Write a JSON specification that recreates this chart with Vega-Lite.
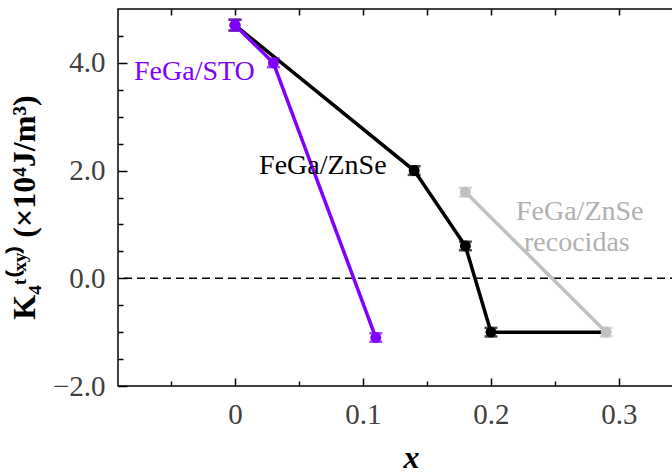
{
  "$schema": "https://vega.github.io/schema/vega-lite/v6.json",
  "width": 560,
  "height": 377,
  "autosize": {"type": "none"},
  "padding": {"left": 118, "top": 9, "right": 0, "bottom": 90},
  "background": "white",
  "config": {
    "view": {"stroke": "black", "strokeWidth": 1.5},
    "font": "Liberation Serif",
    "axis": {"grid": false, "domain": false}
  },
  "datasets": {
    "pts": [
      {"s": "ZnSe", "x": 0, "k": 4.7, "e": 0.1},
      {"s": "ZnSe", "x": 0.14, "k": 2.0, "e": 0.08},
      {"s": "ZnSe", "x": 0.18, "k": 0.6, "e": 0.08},
      {"s": "ZnSe", "x": 0.2, "k": -1.0, "e": 0.08},
      {"s": "ZnSe", "x": 0.29, "k": -1.0, "e": 0.08},
      {"s": "Rec", "x": 0.18, "k": 1.6, "e": 0.08},
      {"s": "Rec", "x": 0.29, "k": -1.0, "e": 0.08},
      {"s": "STO", "x": 0, "k": 4.7, "e": 0.1},
      {"s": "STO", "x": 0.03, "k": 4.0, "e": 0.08},
      {"s": "STO", "x": 0.11, "k": -1.1, "e": 0.08}
    ],
    "labels": [
      {"s": "STO", "x": -0.0789, "k": 3.69, "t": "FeGa/STO"},
      {"s": "ZnSe", "x": 0.0188, "k": 1.944, "t": "FeGa/ZnSe"},
      {"s": "Rec", "x": 0.2195, "k": 1.074, "t": "FeGa/ZnSe"},
      {"s": "Rec", "x": 0.2258, "k": 0.5, "t": "recocidas"}
    ]
  },
  "resolve": {"axis": {"x": "independent", "y": "independent"}},
  "layer": [
    {
      "data": {"values": [{"z": 0}]},
      "mark": {"type": "rule", "color": "black", "strokeWidth": 1.5, "strokeDash": [8, 5]},
      "encoding": {
        "y": {
          "field": "z", "type": "quantitative",
          "scale": {"domain": [-2, 5], "nice": false, "zero": false},
          "axis": {
            "orient": "left",
            "values": [-2, -1.5, -1, -0.5, 0, 0.5, 1, 1.5, 2, 2.5, 3, 3.5, 4, 4.5],
            "labelExpr": "abs(datum.value/2-round(datum.value/2))<0.001 ? format(datum.value,'.1f') : ''",
            "tickSize": {"condition": {"test": "abs(datum.value/2-round(datum.value/2))<0.001", "value": -9}, "value": -5},
            "tickColor": "black",
            "tickWidth": 1.5,
            "labelPadding": 22,
            "labelFontSize": 29,
            "labelColor": "#404040",
            "labelFont": "Liberation Serif",
            "title": "K₄ᵗ⁽ˣʸ⁾ (×10⁴J/m³)",
            "titleFont": "Liberation Serif",
            "titleFontSize": 32,
            "titleFontWeight": "bold",
            "titleColor": "black",
            "titleX": -84,
            "titleY": 198,
            "titleBaseline": "alphabetic"
          }
        }
      }
    },
    {
      "data": {"name": "pts"},
      "transform": [{"filter": "datum.s == 'ZnSe'"}],
      "mark": {"type": "line", "color": "black", "strokeWidth": 3.5},
      "encoding": {
        "x": {
          "field": "x", "type": "quantitative",
          "scale": {"domain": [-0.0914, 0.3461], "nice": false, "zero": false},
          "axis": {
            "orient": "bottom",
            "values": [-0.05, 0, 0.05, 0.1, 0.15, 0.2, 0.25, 0.3],
            "labelExpr": "abs(datum.value*10-round(datum.value*10))<0.001 ? format(datum.value,'~g') : ''",
            "tickSize": {"condition": {"test": "abs(datum.value*10-round(datum.value*10))<0.001", "value": -8}, "value": -5},
            "tickColor": "black",
            "tickWidth": 1.5,
            "labelPadding": 22,
            "labelFontSize": 29,
            "labelColor": "#404040",
            "labelFont": "Liberation Serif",
            "title": "x",
            "titleFont": "Liberation Serif",
            "titleFontSize": 32,
            "titleFontWeight": "bold",
            "titleFontStyle": "italic",
            "titleColor": "black",
            "titleX": 293,
            "titleY": 81,
            "titleBaseline": "alphabetic"
          }
        },
        "y": {"field": "k", "type": "quantitative", "axis": null}
      }
    },
    {
      "data": {"name": "pts"},
      "transform": [{"filter": "datum.s == 'ZnSe' && datum.x < 0.25"}],
      "mark": {"type": "errorbar", "color": "black", "thickness": 2, "ticks": {"size": 13, "thickness": 2.5, "color": "black"}},
      "encoding": {
        "x": {"field": "x", "type": "quantitative", "axis": null},
        "y": {"field": "k", "type": "quantitative", "axis": null},
        "yError": {"field": "e"}
      }
    },
    {
      "data": {"name": "pts"},
      "transform": [{"filter": "datum.s == 'ZnSe' && datum.x < 0.25"}],
      "mark": {"type": "circle", "color": "black", "size": 120, "opacity": 1},
      "encoding": {
        "x": {"field": "x", "type": "quantitative", "axis": null},
        "y": {"field": "k", "type": "quantitative", "axis": null}
      }
    },
    {
      "data": {"name": "pts"},
      "transform": [{"filter": "datum.s == 'Rec'"}],
      "mark": {"type": "line", "color": "#c0c0c0", "strokeWidth": 3.5},
      "encoding": {
        "x": {
          "field": "x", "type": "quantitative",
          "axis": {
            "orient": "top",
            "values": [-0.05, 0, 0.05, 0.1, 0.15, 0.2, 0.25, 0.3],
            "labels": false,
            "tickSize": -6,
            "tickColor": "black",
            "tickWidth": 1.5,
            "title": null
          }
        },
        "y": {"field": "k", "type": "quantitative", "axis": null}
      }
    },
    {
      "data": {"name": "pts"},
      "transform": [{"filter": "datum.s == 'Rec'"}],
      "mark": {"type": "errorbar", "color": "#c0c0c0", "thickness": 2, "ticks": {"size": 13, "thickness": 2.5, "color": "#c0c0c0"}},
      "encoding": {
        "x": {"field": "x", "type": "quantitative", "axis": null},
        "y": {"field": "k", "type": "quantitative", "axis": null},
        "yError": {"field": "e"}
      }
    },
    {
      "data": {"name": "pts"},
      "transform": [{"filter": "datum.s == 'Rec'"}],
      "mark": {"type": "circle", "color": "#c0c0c0", "size": 120, "opacity": 1},
      "encoding": {
        "x": {"field": "x", "type": "quantitative", "axis": null},
        "y": {"field": "k", "type": "quantitative", "axis": null}
      }
    },
    {
      "data": {"name": "pts"},
      "transform": [{"filter": "datum.s == 'STO'"}],
      "mark": {"type": "line", "color": "#8000ff", "strokeWidth": 3.5},
      "encoding": {
        "x": {"field": "x", "type": "quantitative", "axis": null},
        "y": {"field": "k", "type": "quantitative", "axis": null}
      }
    },
    {
      "data": {"name": "pts"},
      "transform": [{"filter": "datum.s == 'STO'"}],
      "mark": {"type": "errorbar", "color": "#8000ff", "thickness": 2, "ticks": {"size": 13, "thickness": 2.5, "color": "#8000ff"}},
      "encoding": {
        "x": {"field": "x", "type": "quantitative", "axis": null},
        "y": {"field": "k", "type": "quantitative", "axis": null},
        "yError": {"field": "e"}
      }
    },
    {
      "data": {"name": "pts"},
      "transform": [{"filter": "datum.s == 'STO'"}],
      "mark": {"type": "circle", "color": "#8000ff", "size": 120, "opacity": 1},
      "encoding": {
        "x": {"field": "x", "type": "quantitative", "axis": null},
        "y": {"field": "k", "type": "quantitative", "axis": null}
      }
    },
    {
      "data": {"name": "labels"},
      "mark": {"type": "text", "align": "left", "baseline": "alphabetic", "font": "Liberation Serif", "fontSize": 28},
      "encoding": {
        "x": {"field": "x", "type": "quantitative", "axis": null},
        "y": {"field": "k", "type": "quantitative", "axis": null},
        "text": {"field": "t"},
        "color": {
          "field": "s", "type": "nominal",
          "scale": {"domain": ["STO", "ZnSe", "Rec"], "range": ["#8000ff", "#000000", "#b0b0b0"]},
          "legend": null
        }
      }
    }
  ]
}
